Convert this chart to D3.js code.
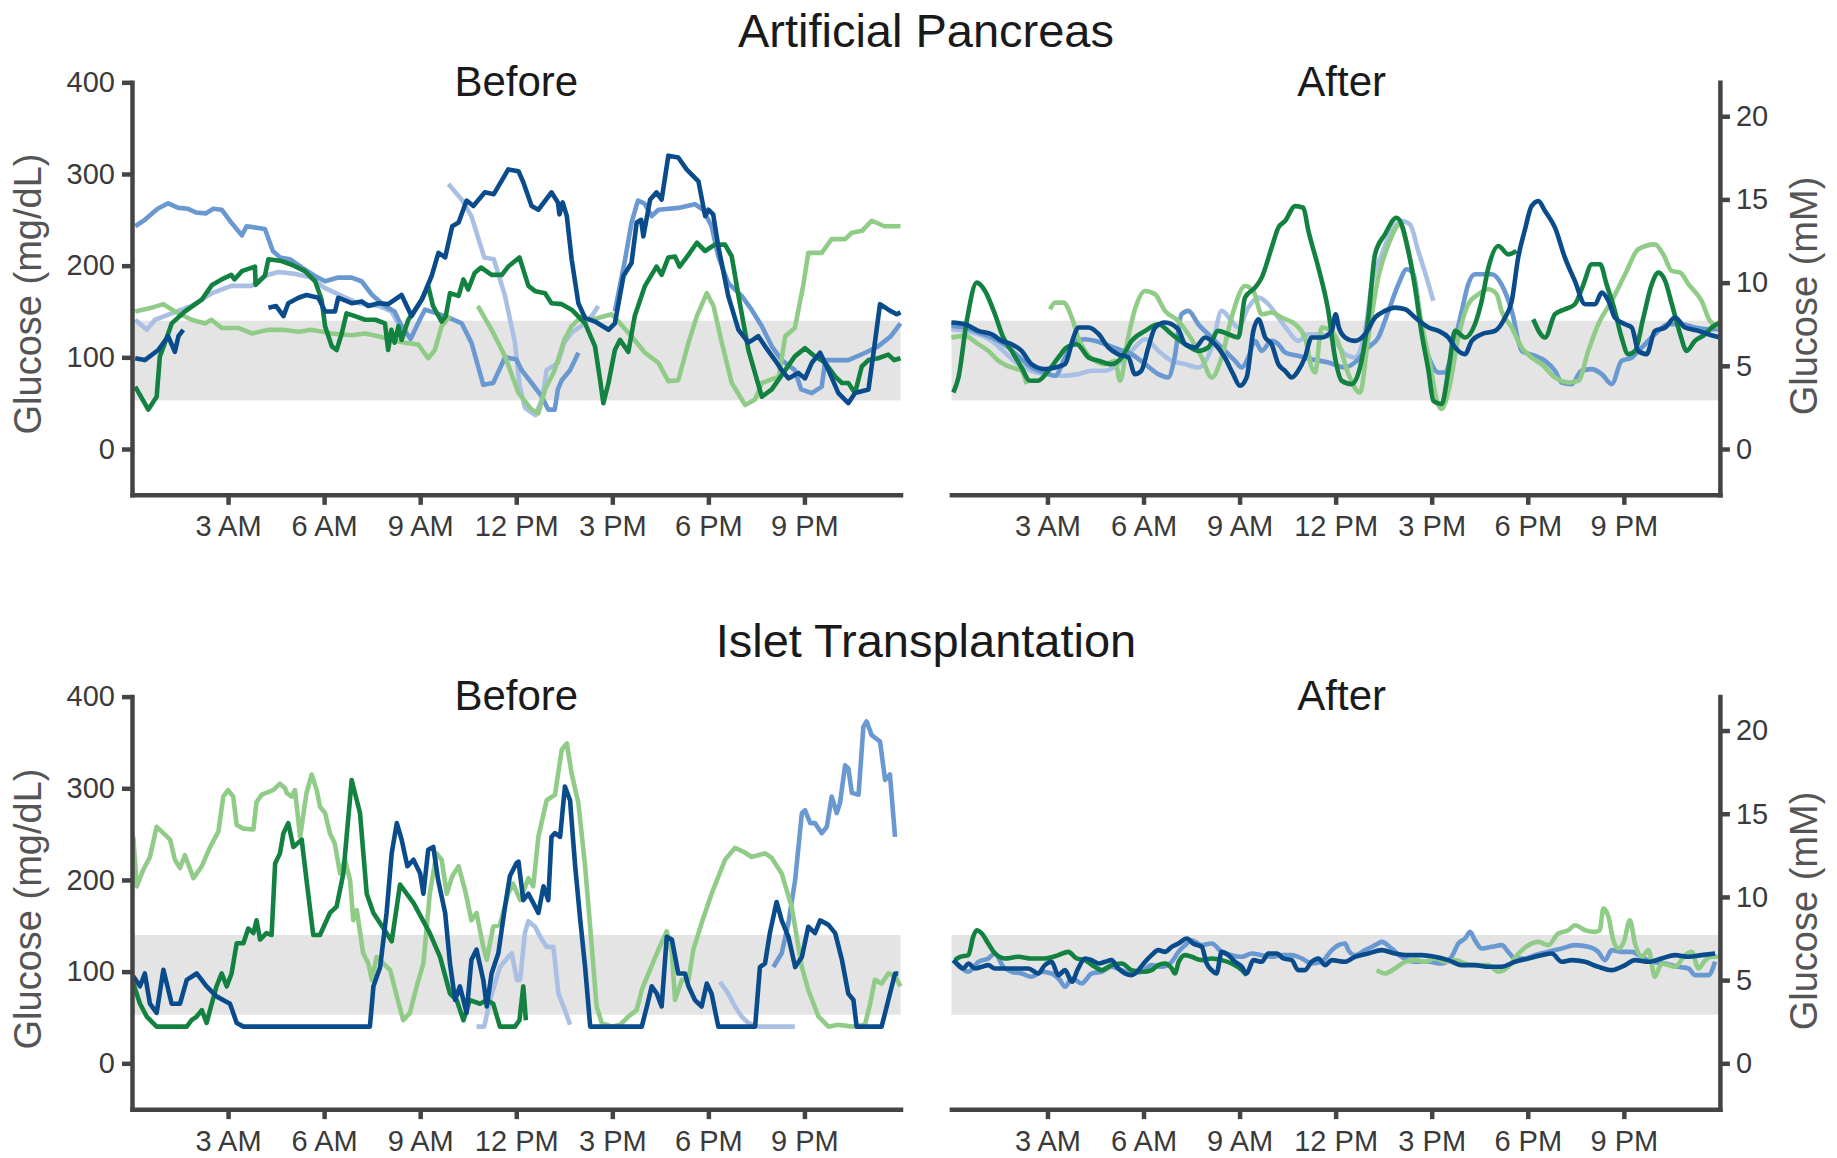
<!DOCTYPE html>
<html>
<head>
<meta charset="utf-8">
<title>Artificial Pancreas vs Islet Transplantation</title>
<script src="https://cdn.jsdelivr.net/npm/d3@7"></script>
<style>
body { margin: 0; background: #fff; }
svg { font-family: "Liberation Sans", Arial, Helvetica, sans-serif; }
.axis path, .axis line { stroke: #444; stroke-width: 4.5; }
.axis .domain { stroke-linecap: square; }
.axis text { fill: #3a3a3a; font-size: 29px; }
.title { fill: #1a1a1a; font-size: 47px; text-anchor: middle; }
.subtitle { fill: #1a1a1a; font-size: 42px; text-anchor: middle; }
.ylabel { fill: #555; font-size: 38px; text-anchor: middle; }
.band { fill: #e4e4e4; }
.trace { fill: none; stroke-width: 4.6; stroke-linejoin: round; }
</style>
</head>
<body>
<script>

// axis ticks and labels
var hourTicks = [3, 6, 9, 12, 15, 18, 21];
var hourLabels = ["3 AM", "6 AM", "9 AM", "12 PM", "3 PM", "6 PM", "9 PM"];
var mgTicks = [0, 100, 200, 300, 400];
var mmTicks = [0, 5, 10, 15, 20];
var targetRange = [53, 140];   // mg/dL, grey band
var mgPerMM = 18.15;

// five patients per panel, drawn back to front
var seriesNames = ["lightBlue", "midBlue", "lightGreen", "darkGreen", "darkBlue"];
var seriesColors = ["#a9c0e4", "#6a98d1", "#90cc88", "#138241", "#0a4c8b"];

// ---- Artificial Pancreas, before (mg/dL), [hour, glucose], null = gap
var apBeforeLB = [[0.1,141],[0.46,130],[0.72,141],[1.24,148],[1.86,156],[2.5,170],[3.1,178],[3.74,178],[4.15,189],[4.57,193],[5.1,191],[5.6,187],[6.0,176],[6.55,167],[7.07,159],[7.7,156],[8.1,150],[8.5,125],[8.6,null],
  [9.88,289],[10.3,272],[10.6,254],[11.0,209],[11.3,207],[11.65,167],[11.96,116],[12.1,70],[12.27,45],[12.6,37],[12.8,54],[12.95,86],[13.3,94],[13.5,116],[13.73,127],[14.15,137],[14.4,147],[14.56,156]];
var apBeforeMB = [[0.1,243],[0.4,250],[0.8,262],[1.13,268],[1.45,263],[1.75,262],[2.0,258],[2.3,257],[2.54,262],[2.8,261],[3.1,247],[3.43,233],[3.58,243],[4.15,240],[4.4,216],[4.62,209],[4.93,207],[5.3,198],[5.7,189],[6.03,183],[6.44,187],[6.86,187],[7.17,183],[7.5,168],[7.9,156],[8.2,150],[8.42,134],[8.7,120],[9.0,142],[9.15,152],[9.78,145],[10.3,137],[10.6,116],[10.97,70],[11.28,72],[11.65,100],[12.0,98],[12.17,86],[12.48,72],[12.8,57],[13.0,43],[13.2,43],[13.3,65],[13.42,75],[13.68,86],[13.94,105],[14.0,null],
  [15.08,150],[15.4,207],[15.6,247],[15.8,271],[16.0,268],[16.23,254],[16.44,261],[17.06,263],[17.58,267],[17.84,261],[18.1,243],[18.31,210],[18.62,181],[19.04,167],[19.35,152],[19.67,134],[19.98,112],[20.29,97],[20.7,86],[20.9,65],[21.23,61],[21.54,68],[21.65,97],[21.96,97],[22.37,97],[22.9,105],[23.3,112],[23.7,123],[24,137]];
var apBeforeDB = [[0.1,99],[0.4,97],[0.82,108],[1.13,123],[1.34,106],[1.45,123],[1.6,130],[1.7,null],
  [4.26,154],[4.5,156],[4.73,145],[4.88,159],[5.2,165],[5.45,168],[5.82,165],[6.03,150],[6.34,150],[6.44,165],[6.86,159],[7.17,161],[7.38,156],[7.7,159],[8.0,158],[8.42,168],[8.73,145],[9.05,163],[9.36,189],[9.57,214],[9.78,209],[10.0,243],[10.2,247],[10.45,271],[10.66,265],[11.02,280],[11.3,278],[11.75,305],[12.07,303],[12.22,291],[12.48,265],[12.69,261],[13.1,280],[13.3,269],[13.35,256],[13.45,269],[13.58,254],[13.73,207],[13.94,159],[14.15,143],[14.46,139],[14.88,130],[15.08,137],[15.35,189],[15.6,203],[15.76,247],[15.9,250],[15.97,232],[16.18,272],[16.38,280],[16.54,272],[16.75,320],[17.06,318],[17.32,305],[17.69,292],[17.9,254],[18.0,261],[18.15,256],[18.31,221],[18.62,167],[18.94,130],[19.25,116],[19.56,123],[19.77,112],[20.08,97],[20.29,86],[20.5,77],[20.81,83],[21.02,77],[21.23,94],[21.49,105],[21.75,86],[22.06,61],[22.37,50],[22.58,61],[23.0,65],[23.2,116],[23.36,158],[23.62,152],[23.88,147],[24,149]];
var apBeforeDG = [[0.1,68],[0.51,43],[0.77,57],[0.87,101],[1.03,116],[1.24,137],[1.65,150],[2.18,163],[2.5,179],[2.8,185],[3.1,190],[3.2,185],[3.43,194],[3.84,199],[3.86,179],[4.15,189],[4.26,207],[4.67,205],[4.99,201],[5.4,194],[5.72,183],[5.92,163],[6.03,134],[6.24,112],[6.39,108],[6.55,126],[6.7,148],[6.96,145],[7.28,141],[7.6,141],[7.9,137],[8.0,108],[8.1,130],[8.2,116],[8.32,134],[8.42,119],[8.63,141],[8.84,152],[9.05,163],[9.25,178],[9.4,156],[9.67,139],[9.8,145],[9.93,170],[10.2,167],[10.35,185],[10.5,174],[10.7,192],[10.9,198],[11.23,190],[11.55,190],[11.75,199],[12.1,209],[12.38,178],[12.6,172],[12.9,170],[13.1,159],[13.42,158],[13.73,152],[14.15,137],[14.46,112],[14.62,75],[14.72,50],[14.88,72],[15.08,108],[15.24,119],[15.5,106],[15.7,145],[16.02,178],[16.38,199],[16.54,190],[16.75,209],[16.96,210],[17.1,199],[17.32,209],[17.64,225],[17.9,216],[18.2,223],[18.52,223],[18.73,210],[18.94,167],[19.25,108],[19.67,57],[19.98,65],[20.4,86],[20.7,101],[21.02,110],[21.33,101],[21.65,94],[21.96,79],[22.17,72],[22.37,72],[22.58,61],[22.79,90],[23.0,97],[23.3,99],[23.62,103],[23.8,97],[24,99]];
var apBeforeLG = [[0.1,150],[0.6,154],[0.98,158],[1.34,150],[1.86,141],[2.28,137],[2.48,141],[2.8,132],[3.32,132],[3.74,126],[4.26,130],[4.7,130],[5.2,128],[5.6,130],[6.24,126],[6.86,124],[7.28,126],[7.7,123],[8.1,119],[8.53,116],[8.94,114],[9.25,99],[9.46,108],[9.67,134],[9.93,145],[10.0,null],
  [10.8,156],[11.23,130],[11.65,101],[12.07,61],[12.48,43],[12.69,39],[12.9,65],[13.2,86],[13.5,119],[13.73,134],[14.05,145],[14.36,141],[14.77,145],[14.98,147],[15.24,137],[15.6,123],[16.02,105],[16.44,94],[16.75,74],[17.06,75],[17.38,116],[17.64,145],[17.95,170],[18.16,156],[18.42,116],[18.73,72],[19.15,48],[19.46,54],[19.67,72],[20.2,79],[20.4,123],[20.7,132],[20.96,178],[21.12,214],[21.54,214],[21.85,229],[22.27,229],[22.48,236],[22.8,238],[23.1,249],[23.5,243],[24,243]];

// ---- Artificial Pancreas, after (mM)
var apAfterLB = [[0,7.2],[0.42,7.1],[0.84,6.9],[1.26,6.5],[1.67,5.8],[2.09,5.1],[2.5,4.7],[2.92,4.5],[3.44,4.4],[3.96,4.5],[4.38,4.7],[4.8,4.7],[5.21,5.1],[5.63,5.9],[6.05,6.6],[6.46,5.9],[6.88,5.3],[7.3,5.1],[7.71,4.9],[8.13,6.1],[8.44,8.3],[8.75,7.7],[8.96,7.3],[9.27,8.5],[9.59,9.1],[9.9,8.7],[10.21,7.9],[10.52,7.1],[10.83,6.5],[11.15,6.9],[11.46,6.9],[11.88,6.7],[12.29,5.7],[12.6,5.5],[12.92,7.1],[13.13,9.9],[13.44,11.7],[13.75,13.1],[14.06,13.7],[14.32,13.5],[14.58,11.9],[14.84,10.3],[15.05,8.9]];
var apAfterMB = [[0,7.4],[0.42,7.3],[0.84,7.0],[1.26,6.7],[1.78,6.1],[2.19,5.4],[2.5,4.9],[2.92,4.6],[3.24,4.4],[3.55,5.5],[3.86,6.5],[4.17,6.6],[4.48,6.5],[4.8,6.3],[5.21,6.0],[5.63,5.7],[6.05,5.1],[6.46,4.5],[6.77,4.3],[6.97,5.5],[7.19,8.1],[7.4,8.3],[7.71,7.5],[8.13,6.7],[8.54,5.9],[8.86,5.3],[9.07,4.9],[9.27,5.5],[9.48,6.5],[9.69,5.9],[10.0,6.5],[10.21,6.3],[10.42,5.8],[10.83,5.6],[11.25,5.4],[11.77,5.2],[12.29,4.9],[12.6,5.2],[13.02,6.1],[13.33,6.7],[13.65,8.3],[13.96,9.9],[14.22,10.8],[14.43,10.5],[14.69,7.1],[15.0,5.1],[15.21,4.6],[15.42,4.6],[15.62,5.7],[15.94,8.3],[16.14,9.9],[16.35,10.5],[16.87,10.5],[17.18,9.9],[17.5,8.3],[17.81,5.9],[18.23,5.6],[18.54,5.3],[18.85,4.7],[19.06,4.0],[19.37,3.9],[19.68,4.7],[19.99,4.8],[20.31,4.5],[20.62,3.9],[20.93,5.3],[21.25,5.5],[21.56,6.1],[21.97,6.9],[22.39,7.5],[22.8,7.5],[23.22,7.3],[23.64,7.2],[24,7.2]];
var apAfterLG = [[0,6.7],[0.42,6.8],[0.84,6.3],[1.15,5.9],[1.47,5.3],[1.88,4.9],[2.19,4.7],[2.35,3.9],[2.4,null],
  [3.08,8.4],[3.24,8.8],[3.5,8.8],[3.76,7.9],[3.96,6.7],[4.17,5.9],[4.48,5.3],[4.8,5.1],[5.11,5.3],[5.27,4.1],[5.5,6.5],[5.75,8.5],[6.05,9.5],[6.36,9.3],[6.67,8.3],[7.08,7.7],[7.4,6.9],[7.82,5.5],[8.13,4.3],[8.44,5.5],[8.75,7.9],[9.17,9.8],[9.43,9.5],[9.69,8.1],[10.0,8.2],[10.31,7.9],[10.73,7.5],[11.04,6.7],[11.25,4.9],[11.36,4.6],[11.56,7.3],[11.88,7.1],[12.1,6.3],[12.4,4.5],[12.76,3.4],[13.02,6.7],[13.33,10.3],[13.65,12.3],[14.01,13.5],[14.22,12.3],[14.48,9.9],[14.69,7.5],[14.95,5.1],[15.16,2.9],[15.31,2.4],[15.57,3.9],[15.83,6.7],[16.14,8.7],[16.46,9.3],[16.77,9.6],[17.03,9.3],[17.18,8.3],[17.5,7.3],[17.81,6.1],[18.12,5.5],[18.43,5.1],[18.85,4.3],[19.27,4.0],[19.58,4.1],[19.89,5.9],[20.2,7.5],[20.62,8.9],[21.04,10.5],[21.45,12.0],[21.97,12.3],[22.23,11.7],[22.5,10.7],[22.76,10.6],[23.02,9.9],[23.43,8.9],[23.69,7.7],[24,7.3]];
var apAfterDG = [[0.06,3.4],[0.22,4.3],[0.48,7.7],[0.79,10.0],[1.05,9.5],[1.36,8.1],[1.62,6.7],[1.88,5.9],[2.19,4.9],[2.45,4.1],[2.7,4.1],[3.03,4.7],[3.34,5.5],[3.6,6.1],[3.91,6.3],[4.28,5.5],[4.6,5.3],[5.0,5.1],[5.32,5.5],[5.63,6.5],[6.05,7.1],[6.46,7.5],[6.88,6.9],[7.3,6.3],[7.71,5.9],[8.02,6.1],[8.33,7.1],[8.65,6.9],[8.96,6.7],[9.17,9.1],[9.48,9.7],[9.69,10.3],[10.0,12.1],[10.21,13.3],[10.42,13.7],[10.73,14.6],[10.99,14.5],[11.15,13.1],[11.46,10.9],[11.77,8.3],[11.98,5.5],[12.19,4.1],[12.5,3.9],[12.76,4.9],[13.02,7.9],[13.23,11.7],[13.54,12.9],[13.9,13.9],[14.06,13.5],[14.27,11.9],[14.48,9.7],[14.69,6.9],[14.9,4.7],[15.05,2.9],[15.31,2.7],[15.52,4.7],[15.73,7.1],[16.04,6.7],[16.35,7.5],[16.56,8.9],[16.77,10.9],[17.08,12.2],[17.39,11.7],[17.65,11.9],[17.8,null],
  [18.17,7.8],[18.54,6.7],[18.85,8.1],[19.16,8.4],[19.47,8.7],[19.74,9.9],[20.0,11.1],[20.26,11.1],[20.46,9.9],[20.72,8.3],[20.93,6.7],[21.14,5.7],[21.35,5.9],[21.61,7.9],[21.87,9.9],[22.08,10.6],[22.29,10.1],[22.5,8.7],[22.76,6.9],[22.96,5.9],[23.22,6.5],[23.54,6.9],[23.74,7.3],[24,7.6]];
var apAfterDB = [[0,7.6],[0.42,7.5],[0.84,7.1],[1.26,6.9],[1.57,6.5],[1.88,6.3],[2.19,5.9],[2.5,5.1],[2.92,4.8],[3.24,4.9],[3.55,5.1],[3.81,6.7],[3.96,7.3],[4.28,7.3],[4.6,6.9],[4.9,6.1],[5.2,5.7],[5.53,5.5],[5.73,4.5],[5.93,4.7],[6.15,6.1],[6.36,7.3],[6.67,7.6],[7.08,7.2],[7.3,6.3],[7.61,6.1],[7.92,6.7],[8.23,6.3],[8.54,5.5],[8.8,4.5],[9.01,3.8],[9.22,4.3],[9.43,7.1],[9.59,7.8],[9.8,6.7],[10.0,6.3],[10.21,5.1],[10.42,4.7],[10.63,4.3],[10.83,4.7],[11.04,5.5],[11.25,6.7],[11.56,6.7],[11.88,7.1],[12.0,8.1],[12.1,7.3],[12.3,6.7],[12.6,6.5],[12.92,6.9],[13.23,7.9],[13.54,8.3],[13.85,8.5],[14.17,8.4],[14.48,7.9],[14.9,7.3],[15.21,7.1],[15.52,6.7],[15.73,6.1],[16.04,5.7],[16.25,6.5],[16.56,6.9],[16.98,7.1],[17.29,7.9],[17.5,8.9],[17.7,11.5],[17.9,13.1],[18.12,14.6],[18.33,14.9],[18.54,14.3],[18.85,13.3],[19.16,11.5],[19.47,10.1],[19.79,8.7],[20.1,8.7],[20.31,9.4],[20.52,8.9],[20.72,7.9],[21.04,7.5],[21.25,7.3],[21.45,5.9],[21.71,5.7],[21.97,7.1],[22.29,7.3],[22.6,7.9],[22.91,7.3],[23.33,7.1],[23.64,6.9],[24,6.7]];

// ---- Islet Transplantation, before (mg/dL)
var itBeforeLB = [[10.76,40],[11.0,40],[11.18,69],[11.49,105],[11.75,116],[11.86,120],[12.02,91],[12.12,91],[12.27,142],[12.38,155],[12.59,149],[12.69,142],[12.8,135],[12.95,127],[13.16,127],[13.32,76],[13.52,58],[13.68,42],[13.7,null],
  [18.36,89],[18.62,76],[18.83,62],[19.04,51],[19.25,44],[19.56,40],[20.7,40]];
var itBeforeMB = [[20.03,105],[20.29,120],[20.5,153],[20.71,200],[20.92,273],[21.02,276],[21.18,262],[21.33,262],[21.54,251],[21.7,258],[21.85,291],[22.01,273],[22.11,284],[22.27,325],[22.37,322],[22.48,295],[22.69,293],[22.84,367],[22.94,373],[23.1,358],[23.36,351],[23.52,309],[23.67,315],[23.83,247]];
var itBeforeLG = [[0.04,247],[0.15,193],[0.35,211],[0.56,225],[0.77,258],[0.98,251],[1.19,244],[1.34,222],[1.5,213],[1.65,227],[1.92,202],[2.18,215],[2.44,236],[2.7,253],[2.85,291],[3.0,298],[3.16,291],[3.27,260],[3.48,256],[3.79,255],[3.89,285],[4.05,293],[4.41,298],[4.62,305],[4.78,300],[4.83,295],[4.99,291],[5.09,298],[5.25,247],[5.45,295],[5.61,315],[5.77,298],[5.87,280],[6.03,273],[6.18,251],[6.33,240],[6.5,207],[6.65,222],[6.81,200],[6.91,156],[7.02,167],[7.22,120],[7.38,109],[7.49,91],[7.64,116],[7.85,109],[8.06,102],[8.27,73],[8.47,47],[8.68,55],[8.89,84],[9.1,109],[9.3,185],[9.51,229],[9.67,222],[9.83,185],[10.0,204],[10.2,215],[10.4,189],[10.6,156],[10.76,164],[10.97,127],[11.08,113],[11.28,149],[11.49,151],[11.75,185],[11.9,196],[12.12,178],[12.38,202],[12.53,193],[12.69,247],[12.95,287],[13.21,293],[13.42,342],[13.58,349],[13.73,316],[13.94,284],[14.15,215],[14.36,127],[14.51,62],[14.67,44],[14.98,40],[15.24,42],[15.5,51],[15.76,58],[15.92,80],[16.13,98],[16.44,124],[16.7,144],[16.86,120],[16.96,69],[17.17,91],[17.38,91],[17.53,124],[17.79,153],[18.1,185],[18.52,222],[18.83,235],[19.09,231],[19.35,225],[19.77,229],[19.98,224],[20.29,207],[20.6,171],[20.92,105],[21.12,80],[21.44,51],[21.75,40],[22.06,42],[22.48,40],[22.89,42],[23.05,65],[23.2,91],[23.41,87],[23.62,98],[23.83,95],[24,84]];
var itBeforeDG = [[0.04,87],[0.25,65],[0.46,51],[0.77,40],[1.71,40],[1.86,47],[2.02,51],[2.18,58],[2.33,44],[2.49,65],[2.64,84],[2.8,98],[2.96,84],[3.11,98],[3.27,131],[3.48,131],[3.63,147],[3.79,142],[3.89,156],[4.0,135],[4.2,142],[4.36,140],[4.47,218],[4.62,229],[4.73,251],[4.88,262],[5.04,236],[5.3,244],[5.45,200],[5.66,140],[5.87,140],[6.18,164],[6.39,171],[6.6,207],[6.86,309],[7.12,273],[7.33,185],[7.54,164],[7.95,142],[8.11,133],[8.37,195],[8.79,175],[9.3,142],[9.62,116],[9.93,76],[10.14,69],[10.35,47],[10.55,69],[10.87,65],[11.08,69],[11.28,65],[11.49,40],[11.96,40],[12.1,47],[12.22,84],[12.3,47]];
var itBeforeDB = [[0.04,95],[0.25,84],[0.4,98],[0.56,65],[0.77,55],[0.98,102],[1.24,65],[1.5,65],[1.71,91],[2.02,98],[2.33,84],[2.64,73],[3.06,65],[3.27,44],[3.48,40],[7.43,40],[7.54,84],[7.75,105],[7.95,164],[8.11,229],[8.27,262],[8.42,244],[8.6,215],[8.79,222],[9.0,207],[9.1,185],[9.25,233],[9.41,236],[9.56,200],[9.78,164],[9.93,109],[10.09,69],[10.24,84],[10.45,55],[10.6,113],[10.76,124],[10.97,91],[11.08,62],[11.23,98],[11.44,120],[11.65,171],[11.8,204],[12.0,218],[12.07,220],[12.22,178],[12.38,185],[12.53,175],[12.69,164],[12.85,193],[13.0,178],[13.1,247],[13.21,251],[13.37,247],[13.52,302],[13.68,287],[13.84,215],[14.0,156],[14.15,105],[14.31,40],[15.92,40],[16.08,62],[16.23,84],[16.39,76],[16.54,62],[16.7,138],[16.86,135],[17.06,98],[17.27,98],[17.38,84],[17.58,69],[17.79,62],[17.95,87],[18.1,76],[18.31,40],[19.46,40],[19.61,105],[19.77,109],[19.92,142],[20.13,176],[20.29,156],[20.5,138],[20.71,105],[20.92,116],[21.12,149],[21.33,142],[21.49,156],[21.75,151],[21.96,142],[22.17,113],[22.37,76],[22.53,69],[22.63,40],[23.41,40],[23.62,69],[23.83,98],[23.93,98]];

// ---- Islet Transplantation, after (mM)
var itAfterMB = [[0.06,6.2],[0.32,5.7],[0.53,5.5],[0.84,6.1],[1.15,6.3],[1.36,6.6],[1.62,5.8],[1.88,5.5],[2.19,5.4],[2.5,5.2],[2.82,5.5],[3.13,5.4],[3.39,5.0],[3.55,4.6],[3.76,5.1],[4.07,4.8],[4.38,5.4],[4.69,5.5],[5.0,5.8],[5.32,5.6],[5.63,5.4],[5.94,5.5],[6.25,5.9],[6.56,5.8],[6.88,6.1],[7.09,6.7],[7.3,7.1],[7.5,7.4],[7.82,7.1],[8.13,7.2],[8.44,6.7],[8.75,6.5],[9.07,6.4],[9.38,6.6],[9.69,6.5],[10.0,6.4],[10.32,6.5],[10.63,6.5],[10.94,6.3],[11.25,6.0],[11.56,6.1],[11.88,6.8],[12.09,7.1],[12.29,7.2],[12.4,6.8],[12.6,6.5],[12.92,6.8],[13.23,7.1],[13.44,7.3],[13.75,6.9],[14.06,6.4],[14.48,6.1],[14.9,6.1],[15.31,6.0],[15.62,6.4],[15.83,7.2],[16.04,7.5],[16.2,7.9],[16.35,7.4],[16.56,6.9],[16.87,7.0],[17.19,7.1],[17.39,6.7],[17.6,6.3],[17.91,6.3],[18.23,6.5],[18.64,6.7],[19.06,6.9],[19.48,7.1],[19.89,7.0],[20.2,6.7],[20.41,6.2],[20.62,6.8],[20.93,6.7],[21.25,6.7],[21.56,6.4],[21.87,6.1],[22.29,6.0],[22.7,5.8],[23.02,5.7],[23.22,5.3],[23.64,5.3],[23.85,6.1]];
var itAfterLG = [[13.28,5.6],[13.54,5.4],[13.85,5.7],[14.17,6.1],[14.48,6.2],[14.79,6.1],[15.1,6.3],[15.42,6.1],[15.73,6.2],[16.04,6.0],[16.35,5.9],[16.77,5.9],[17.08,5.5],[17.39,5.8],[17.71,6.6],[18.02,7.1],[18.33,7.3],[18.64,7.1],[18.95,7.8],[19.27,8.0],[19.48,8.3],[19.79,8.0],[20.1,7.9],[20.25,8.0],[20.36,9.3],[20.52,8.8],[20.67,7.4],[20.83,6.9],[21.0,7.3],[21.19,8.6],[21.35,7.2],[21.56,6.4],[21.77,6.8],[21.97,5.2],[22.18,6.0],[22.39,5.9],[22.6,5.8],[22.91,6.5],[23.12,6.7],[23.33,5.7],[23.54,6.2],[23.74,6.4],[23.95,6.4]];
var itAfterDG = [[0.11,6.2],[0.27,6.4],[0.53,6.5],[0.68,7.6],[0.79,8.0],[0.95,7.8],[1.15,7.2],[1.36,6.6],[1.67,6.3],[2.09,6.4],[2.5,6.3],[2.92,6.3],[3.34,6.5],[3.65,6.7],[3.91,6.3],[4.17,6.2],[4.48,5.8],[4.69,5.6],[5.0,5.9],[5.32,6.0],[5.63,5.6],[6.0,5.5],[6.25,5.6],[6.46,5.9],[6.67,6.0],[6.88,5.7],[6.98,5.4],[7.1,6.1],[7.3,6.5],[7.5,6.4],[7.82,6.2],[8.13,6.3],[8.44,6.2],[8.75,6.0],[9.07,5.6],[9.22,5.3]];
var itAfterDB = [[0.06,6.2],[0.22,5.9],[0.37,5.7],[0.53,6.0],[0.74,5.7],[0.95,5.8],[1.15,5.9],[1.36,5.7],[1.88,5.7],[2.4,5.7],[2.71,5.4],[2.92,5.9],[3.13,6.1],[3.34,5.3],[3.55,5.6],[3.76,4.9],[3.96,5.7],[4.17,6.3],[4.38,6.2],[4.6,6.0],[4.8,6.1],[5.0,6.2],[5.21,5.7],[5.42,5.4],[5.63,5.3],[5.84,5.6],[6.05,6.1],[6.25,6.5],[6.46,6.8],[6.67,6.7],[6.88,7.0],[7.09,7.2],[7.35,7.5],[7.55,7.2],[7.82,7.0],[7.97,6.0],[8.13,5.6],[8.28,5.4],[8.44,6.7],[8.65,6.5],[8.86,6.1],[9.07,5.8],[9.22,5.4],[9.43,6.2],[9.69,6.1],[9.9,6.6],[10.16,6.6],[10.37,6.3],[10.63,6.2],[10.83,5.6],[11.04,5.6],[11.25,6.1],[11.46,6.3],[11.67,5.9],[11.88,6.2],[12.29,6.1],[12.6,6.4],[13.02,6.6],[13.44,6.8],[13.85,6.6],[14.27,6.5],[14.69,6.5],[15.1,6.4],[15.52,6.2],[15.94,5.9],[16.35,5.9],[16.77,5.8],[17.18,5.8],[17.6,6.1],[18.02,6.3],[18.43,6.5],[18.75,6.6],[19.06,6.1],[19.37,6.2],[19.79,6.1],[20.2,5.8],[20.62,5.6],[21.04,5.9],[21.35,6.2],[21.77,6.1],[22.18,6.3],[22.6,6.5],[23.02,6.4],[23.43,6.5],[23.85,6.6]];

var panels = [
  {row: 0, col: 0, label: "Before", unit: "mg",
   series: {lightBlue: apBeforeLB, midBlue: apBeforeMB, lightGreen: apBeforeLG, darkGreen: apBeforeDG, darkBlue: apBeforeDB}},
  {row: 0, col: 1, label: "After", unit: "mM",
   series: {lightBlue: apAfterLB, midBlue: apAfterMB, lightGreen: apAfterLG, darkGreen: apAfterDG, darkBlue: apAfterDB}},
  {row: 1, col: 0, label: "Before", unit: "mg",
   series: {lightBlue: itBeforeLB, midBlue: itBeforeMB, lightGreen: itBeforeLG, darkGreen: itBeforeDG, darkBlue: itBeforeDB}},
  {row: 1, col: 1, label: "After", unit: "mM",
   series: {midBlue: itAfterMB, lightGreen: itAfterLG, darkGreen: itAfterDG, darkBlue: itAfterDB}}
];
var rowTitles = ["Artificial Pancreas", "Islet Transplantation"];

// layout
var width = 1837, height = 1158;
var colX = [132, 951.4], plotW = 768.5;
var rowZero = [449, 1063.3], pxPerMg = 0.9167;
var titleY = [47, 657], subtitleY = [96, 710], labelY = [294, 909];
var subtitleShift = [0, 6];

var svg = d3.select("body").append("svg")
    .attr("width", width)
    .attr("height", height);

rowTitles.forEach(function(t, r) {
  svg.append("text").attr("class", "title")
      .attr("x", (colX[0] + colX[1] + plotW) / 2)
      .attr("y", titleY[r])
      .text(t);
});

panels.forEach(drawPanel);

function drawPanel(p) {
  var x0 = colX[p.col], zero = rowZero[p.row];
  var x = d3.scaleLinear().domain([0, 24]).range([x0, x0 + plotW]);
  var y = d3.scaleLinear().domain([-50, 400])
      .range([zero + 50 * pxPerMg, zero - 400 * pxPerMg]);
  var yM = d3.scaleLinear().domain([-50 / mgPerMM, 400 / mgPerMM]).range(y.range());
  var yv = p.unit === "mM" ? yM : y;

  var g = svg.append("g");

  // target range band
  g.append("rect").attr("class", "band")
      .attr("x", x(0))
      .attr("width", x(24) - x(0))
      .attr("y", y(targetRange[1]))
      .attr("height", y(targetRange[0]) - y(targetRange[1]));

  var line = d3.line()
      .defined(function(d) { return d[1] !== null; })
      .x(function(d) { return x(d[0]); })
      .y(function(d) { return yv(d[1]); })
      .curve(p.unit === "mM" ? d3.curveMonotoneX : d3.curveLinear);

  seriesNames.forEach(function(name, i) {
    var values = p.series[name];
    if (!values) return;
    g.append("path")
        .attr("class", "trace")
        .attr("stroke", seriesColors[i])
        .attr("d", line(values));
  });

  // time axis
  g.append("g").attr("class", "axis")
      .attr("transform", "translate(0," + y(-50) + ")")
      .call(d3.axisBottom(x)
        .tickValues(hourTicks)
        .tickFormat(function(d) { return hourLabels[hourTicks.indexOf(d)]; })
        .tickSize(10).tickSizeOuter(0).tickPadding(11));

  if (p.col === 0) {
    g.append("g").attr("class", "axis")
        .attr("transform", "translate(" + x(0) + ",0)")
        .call(d3.axisLeft(y).tickValues(mgTicks).tickSize(10).tickSizeOuter(0).tickPadding(7));
    svg.append("text").attr("class", "ylabel")
        .attr("transform", "translate(41," + labelY[p.row] + ") rotate(-90)")
        .text("Glucose (mg/dL)");
  } else {
    g.append("g").attr("class", "axis")
        .attr("transform", "translate(" + x(24) + ",0)")
        .call(d3.axisRight(yM).tickValues(mmTicks).tickSize(10).tickSizeOuter(0).tickPadding(6));
    svg.append("text").attr("class", "ylabel")
        .attr("transform", "translate(1817," + (labelY[p.row] + 2) + ") rotate(-90)")
        .text("Glucose (mM)");
  }

  g.append("text").attr("class", "subtitle")
      .attr("x", (x(0) + x(24)) / 2 + subtitleShift[p.col])
      .attr("y", subtitleY[p.row])
      .text(p.label);
}

</script>
</body>
</html>
